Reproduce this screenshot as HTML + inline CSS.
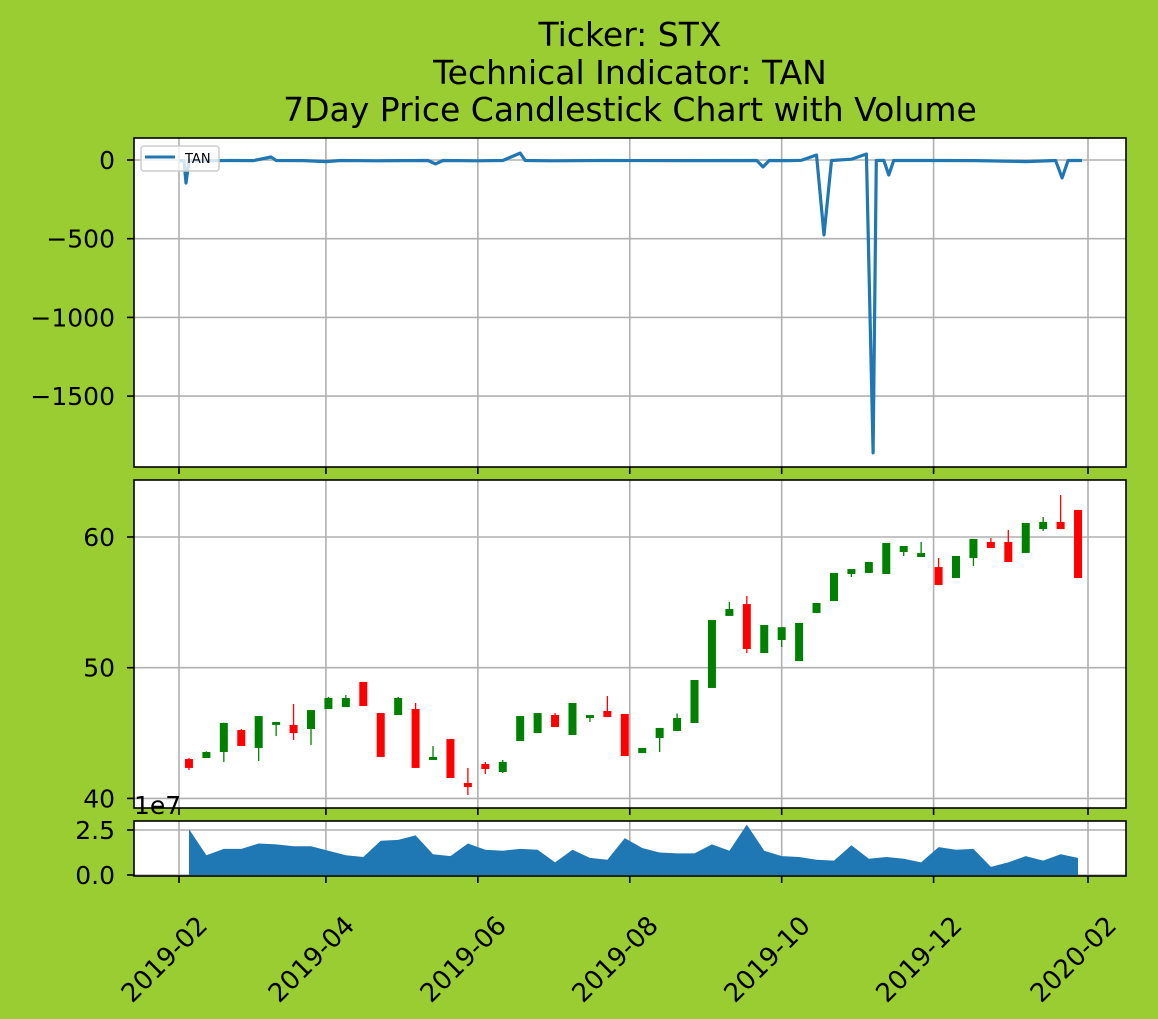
<!DOCTYPE html>
<html><head><meta charset="utf-8"><style>
html,body{margin:0;padding:0;background:#9acd32;}
svg{display:block;font-family:"DejaVu Sans","Liberation Sans",sans-serif;}
</style></head><body>
<svg id="chart" width="1158" height="1019" viewBox="0 0 1158 1019" xmlns="http://www.w3.org/2000/svg">
<rect x="0" y="0" width="1158" height="1019" fill="#9acd32"/>
<g font-size="33" text-anchor="middle" fill="#000">
<text x="630" y="46">Ticker: STX</text>
<text x="630" y="84">Technical Indicator: TAN</text>
<text x="630" y="121">7Day Price Candlestick Chart with Volume</text>
</g>
<g id="g"></g>
</svg>
<script>
// ---- data ----
const xTickLabels = ["2019-02","2019-04","2019-06","2019-08","2019-10","2019-12","2020-02"];
const xTickDays = [0,59,120,181,242,303,365];
const tanDays = [0,2,2.8,4,10,20,30,37,39,50,59,65,80,100,103,106,120,130,137,139,150,170,200,232,234.5,237,245,250,256,259,262,270,276,278.7,280,283,285,287,300,320,340,352,354.6,357,362.6];
const tanValues = [-3,-5,-146,-3,-5,-3,-4,19,-3,-4,-10,-3,-5,-3,-25,-3,-5,-3,44,-3,-5,-3,-4,-3,-44,-3,-4,-2,32,-476,-3,5,38,-1860,-3,-2,-95,-3,-3,-4,-10,-3,-114,-3,-3];
const candleOpen  = [43.01,43.09,43.55,45.23,43.86,45.62,45.62,45.31,46.84,46.99,48.91,46.53,46.38,46.84,42.94,44.54,41.18,42.63,42.02,44.39,45.0,46.38,44.85,46.15,46.69,46.46,43.47,44.62,45.16,45.77,48.45,53.96,54.87,51.12,52.12,50.51,54.19,55.10,57.17,57.25,57.17,58.85,58.47,57.70,56.86,58.39,59.62,59.62,58.78,60.61,61.15,62.07];
const candleHigh  = [43.09,43.6,45.8,45.3,46.3,45.85,47.22,46.76,47.76,47.91,48.91,46.53,47.76,47.30,44.01,44.54,42.33,42.79,42.94,46.3,46.53,46.53,47.30,46.38,47.83,46.46,43.86,45.39,46.5,49.06,53.65,55.03,55.49,53.27,53.1,53.42,54.95,57.25,57.55,58.09,59.54,59.31,59.62,58.39,58.55,59.85,59.92,60.54,61.07,61.53,63.21,62.07];
const candleLow   = [42.18,43.09,42.79,44.0,42.86,44.77,44.47,44.09,46.84,46.99,47.07,43.17,46.38,42.33,42.94,41.56,40.26,41.87,41.94,44.39,45.0,45.46,44.85,45.85,46.23,43.24,43.47,43.55,45.16,45.77,48.45,53.96,51.12,51.12,51.58,50.51,54.19,55.10,56.94,57.25,57.17,58.55,58.47,56.33,56.86,57.78,59.16,58.09,58.78,60.46,60.61,56.86];
const candleClose = [42.33,43.55,45.77,44.01,46.30,45.85,45.0,46.76,47.68,47.68,47.07,43.17,47.68,42.33,43.17,41.56,40.87,42.25,42.79,46.30,46.53,45.46,47.30,46.38,46.23,43.24,43.86,45.39,46.15,49.06,53.65,54.49,51.43,53.27,53.1,53.42,54.95,57.25,57.55,58.09,59.54,59.31,58.78,56.33,58.55,59.85,59.16,58.09,61.07,61.15,60.61,56.86];
const volumeValues = [2.55,1.1,1.45,1.45,1.75,1.7,1.6,1.6,1.35,1.1,1.0,1.9,1.95,2.2,1.15,1.05,1.75,1.4,1.35,1.45,1.4,0.7,1.4,0.95,0.85,2.05,1.5,1.25,1.2,1.2,1.7,1.35,2.8,1.35,1.05,1.0,0.85,0.8,1.65,0.9,1.0,0.9,0.7,1.55,1.4,1.45,0.45,0.7,1.05,0.8,1.15,0.95];
const tanTicks = [0,-500,-1000,-1500];
const tanTickLabels = ["0","\u2212500","\u22121000","\u22121500"];
const priceTicks = [40,50,60];
const volTicks = [0,2.5];
const volTickLabels = ["0.0","2.5"];
const firstCandleDay = 4, candleStepDays = 7;

// ---- scales ----
const L=134,R=1126;
const P1={t:138,b:467}, P2={t:480,b:808}, P3={t:821,b:876};
const xS=d=>179+d*(1088-179)/365;
const y1=v=>160-v*(78.7/500);
const y2=v=>537-(v-60)*13.07;
const y3=v=>875-v*(45/2.5);
const NS="http://www.w3.org/2000/svg";
const G=document.getElementById('g');
function mk(tag,attrs,parent){const e=document.createElementNS(NS,tag);for(const k in attrs)e.setAttribute(k,attrs[k]);(parent||G).appendChild(e);return e;}

function panel(P,name){
  const g=mk('g',{});
  
  
  const bg=mk('rect',{x:L,y:P.t,width:R-L,height:P.b-P.t,fill:'#fff'},g);
  
  
  xTickDays.forEach(d=>{
    const l=mk('line',{x1:xS(d),x2:xS(d),y1:P.t,y2:P.b,stroke:'#b0b0b0','stroke-width':1.6},g);
    
    
    const t=mk('line',{x1:xS(d),x2:xS(d),y1:P.b,y2:P.b+7,stroke:'#000','stroke-width':1.6},g);
    
    
  });
  return g;
}
function frame(P,g){
  const f=mk('rect',{x:L,y:P.t,width:R-L,height:P.b-P.t,fill:'none',stroke:'#000','stroke-width':1.6},g);
  
  
}
function yTick(g,y,label,P,name){
  const gl=mk('line',{x1:L,x2:R,y1:y,y2:y,stroke:'#b0b0b0','stroke-width':1.6},g);
  
  
  const tk=mk('line',{x1:L-7,x2:L,y1:y,y2:y,stroke:'#000','stroke-width':1.6},g);
  
  
  const tx=mk('text',{x:L-19,y:y+9,'font-size':25,'text-anchor':'end',fill:'#000'},g);
  tx.textContent=label;
  
  
}

// Panel 1: TAN
const g1=panel(P1,'indicator-panel');
tanTicks.forEach((v,i)=>yTick(g1,y1(v),tanTickLabels[i],P1,'indicator-y-tick-label'));
const tanPts=tanDays.map((d,i)=>xS(d).toFixed(1)+','+y1(tanValues[i]).toFixed(1)).join(' ');
const tl=mk('polyline',{points:tanPts,fill:'none',stroke:'#1f77b4','stroke-width':3.2,'stroke-linejoin':'round'},g1);


const lg=mk('g',{},g1);


mk('rect',{x:141,y:146,width:78,height:25,rx:3,fill:'rgba(255,255,255,0.8)',stroke:'#ccc','stroke-width':1.5},lg);
mk('line',{x1:145,x2:175,y1:157,y2:157,stroke:'#1f77b4','stroke-width':3},lg);
const lt=mk('text',{x:185,y:163,'font-size':13,fill:'#000'},lg);
lt.textContent='TAN';


frame(P1,g1);

// Panel 2: candles
const g2=panel(P2,'price-panel');
priceTicks.forEach(v=>yTick(g2,y2(v),String(v),P2,'price-y-tick-label'));
candleOpen.forEach((o,i)=>{
  const c=candleClose[i], d=firstCandleDay+i*candleStepDays, x=xS(d);
  const col=c>=o?'#008000':'#ff0000';
  const cg=mk('g',{},g2);
  
  
  mk('line',{x1:x,x2:x,y1:y2(candleHigh[i]),y2:y2(candleLow[i]),stroke:col,'stroke-width':1.3},cg);
  const top=y2(Math.max(o,c)), bot=y2(Math.min(o,c));
  mk('rect',{x:x-4,y:top,width:8,height:Math.max(bot-top,1.5),fill:col},cg);
});
frame(P2,g2);
const oe=mk('text',{x:134,y:814,'font-size':25,fill:'#000'});
oe.textContent='1e7';



// Panel 3: volume
const g3=panel(P3,'volume-panel');
volTicks.forEach((v,i)=>yTick(g3,y3(v),volTickLabels[i],P3,'volume-y-tick-label'));
let vp=volumeValues.map((v,i)=>xS(firstCandleDay+i*candleStepDays).toFixed(1)+','+y3(v).toFixed(1));
const x0=xS(firstCandleDay), xe=xS(firstCandleDay+(volumeValues.length-1)*candleStepDays);
const va=mk('polygon',{points:x0+','+y3(0)+' '+vp.join(' ')+' '+xe+','+y3(0),fill:'#1f77b4'},g3);


frame(P3,g3);
xTickDays.forEach((d,i)=>{
  const x=xS(d)+30, y=927;
  const t=mk('text',{x:x,y:y,'font-size':26,'text-anchor':'end',fill:'#000',transform:'rotate(-45 '+x+' '+y+')'});
  t.textContent=xTickLabels[i];
  
  
});
</script>
</body></html>
